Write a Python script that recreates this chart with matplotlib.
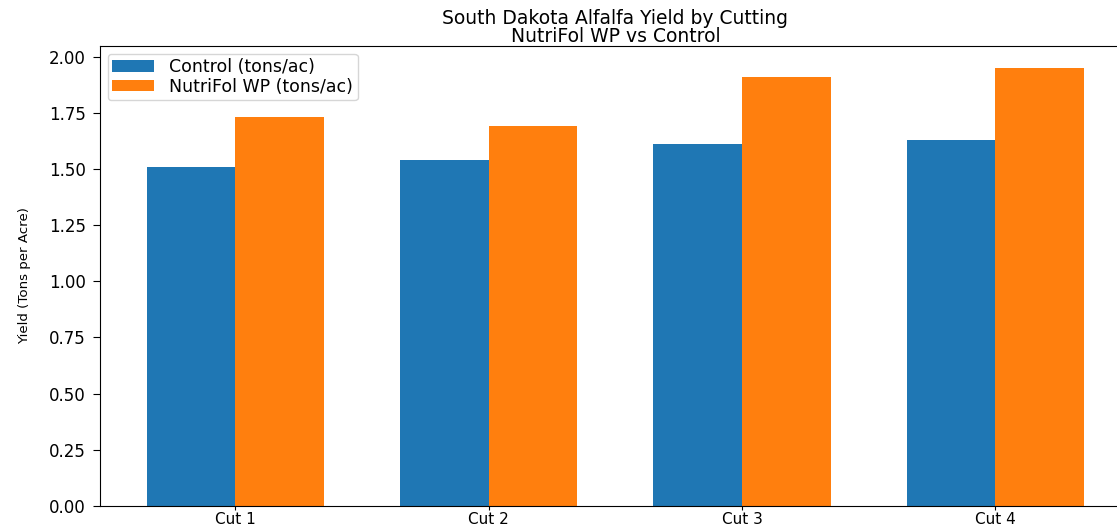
import numpy as np
import matplotlib
matplotlib.use("Agg")
import matplotlib.pyplot as plt

# yields per cutting (tons/ac)
cuts = ["Cut 1", "Cut 2", "Cut 3", "Cut 4"]
control = [1.51, 1.54, 1.61, 1.63]
nutrifol = [1.73, 1.69, 1.91, 1.95]

x = np.arange(len(cuts))
width = 0.35

fig = plt.figure(figsize=(11.17, 5.29), dpi=100)
# axes runs a bit past the right edge, like the cropped original
ax = fig.add_axes([0.0895, 0.0435, 0.923, 0.8696])

ax.bar(x - width / 2, control, width, label="Control (tons/ac)", color="#1f77b4")
ax.bar(x + width / 2, nutrifol, width, label="NutriFol WP (tons/ac)", color="#ff7f0e")

ax.set_xticks(x)
ax.set_xticklabels(cuts)
ax.tick_params(axis="x", labelsize=11, length=3, pad=1)
ax.tick_params(axis="y", labelsize=12, length=5, pad=5)

ax.set_ylabel("Yield (Tons per Acre)", fontsize=9.6, labelpad=13)
ax.set_title("South Dakota Alfalfa Yield by Cutting\nNutriFol WP vs Control",
             fontsize=13.5, linespacing=0.95, pad=3)

ax.legend(loc="upper left", fontsize=12.5, labelspacing=0.1, borderpad=0.25,
          handlelength=2.4, handleheight=0.6, handletextpad=0.9,
          borderaxespad=0.45)

plt.savefig("out.png", dpi=100)
